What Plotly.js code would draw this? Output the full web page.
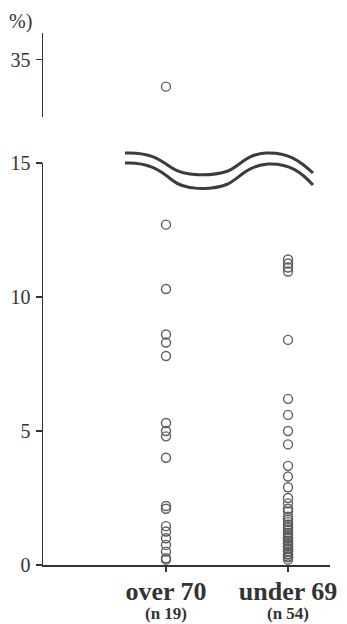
<!DOCTYPE html>
<html>
<head>
<meta charset="utf-8">
<script src="https://cdn.plot.ly/plotly-3.0.1.min.js"></script>
<style>
  html, body { margin: 0; padding: 0; background: #fff; }
  #chart { width: 347px; height: 624px; }
</style>
</head>
<body>
<div id="chart"></div>
<script>
// Groups along the x axis and their sample sizes
const categories = ['over 70', 'under 69'];
const groupSizes = [19, 54];

// Individual values (%) for each group
const over70 = [34, 12.7, 10.3, 8.6, 8.3, 7.8, 5.3, 5.0, 4.8, 4.0, 2.2, 2.1,
  1.45, 1.25, 1.0, 0.75, 0.5, 0.25, 0.2];
const under69 = [11.4, 11.25, 11.1, 10.95, 8.4, 6.2, 5.6, 5.0, 4.5, 3.7, 3.3, 2.9,
  2.5, 2.3, 2.1, 2.0, 1.8,
  1.7, 1.6, 1.5, 1.5, 1.4, 1.4, 1.3, 1.3, 1.2, 1.2, 1.1, 1.1, 1.0, 1.0, 1.0,
  0.9, 0.9, 0.9, 0.8, 0.8, 0.8, 0.7, 0.7, 0.7, 0.6, 0.6, 0.6, 0.5, 0.5, 0.5,
  0.4, 0.4, 0.4, 0.3, 0.3, 0.3, 0.2];

// Axis ticks for the lower and upper (broken) segments
const lowerTicks = [0, 5, 10, 15];
const upperTicks = [35];
const breakLevel = 15;

const W = 347, H = 624;
const px = x => x / W;
const py = y => 1 - y / H;

const serif = 'Liberation Serif, Times New Roman, serif';
const ink = '#333333';

const groups = [over70, under69];
const traces = [];
groups.forEach((vals, i) => {
  const low = vals.filter(v => v <= breakLevel);
  const high = vals.filter(v => v > breakLevel);
  const marker = { symbol: 'circle-open', size: 9, color: '#5e5e5e', line: { width: 1.4, color: '#5e5e5e' } };
  traces.push({ type: 'scatter', mode: 'markers', x: low.map(() => i), y: low,
    xaxis: 'x', yaxis: 'y', marker, cliponaxis: false, hoverinfo: 'y' });
  if (high.length) {
    traces.push({ type: 'scatter', mode: 'markers', x: high.map(() => i), y: high,
      xaxis: 'x', yaxis: 'y2', marker, cliponaxis: false, hoverinfo: 'y' });
  }
});

// Wavy double line marking the axis break (pixel-space path helper)
function wave(points) {
  let d = 'M ' + px(points[0][0]) + ',' + py(points[0][1]);
  for (let k = 1; k < points.length; k += 3) {
    d += ' C ' + [points[k], points[k + 1], points[k + 2]]
      .map(p => px(p[0]) + ',' + py(p[1])).join(' ');
  }
  return d;
}
const upperWave = [[125,153],[148,152],[158,158],[172,168],[184,176],[210,177],[228,171],[240,166],[246,154],[266,153],[288,152],[300,161],[313,173]];
const lowerWave = [[125,163],[148,162],[160,170],[172,180],[184,190],[210,191],[228,184],[240,178],[246,166],[268,164],[290,163],[302,173],[313,185]];
const waveStyle = { color: '#3c3c3c', width: 3 };

const axisCommon = {
  showline: true, linecolor: ink, linewidth: 1.5,
  ticks: 'outside', tickcolor: ink, tickwidth: 1.3,
  showgrid: false, zeroline: false,
  tickfont: { family: serif, size: 20, color: ink }
};

const layout = {
  width: W, height: H,
  margin: { l: 0, r: 0, t: 0, b: 0 },
  showlegend: false,
  paper_bgcolor: '#ffffff',
  plot_bgcolor: 'rgba(0,0,0,0)',
  font: { family: serif, color: ink },
  xaxis: Object.assign({}, axisCommon, {
    domain: [px(43), px(330)],
    range: [-1.008, 1.344],
    tickvals: categories.map((c, i) => i),
    ticktext: categories.map(c => '<b>' + c + '</b>'),
    ticklen: 5,
    ticklabelstandoff: -3,
    tickfont: { family: serif, size: 26, color: ink },
    anchor: 'y'
  }),
  yaxis: Object.assign({}, axisCommon, {
    domain: [py(565), py(163)],
    range: [0, 15],
    tickvals: lowerTicks,
    ticklen: 6,
    ticklabelstandoff: 1,
    anchor: 'x'
  }),
  yaxis2: Object.assign({}, axisCommon, {
    domain: [py(117), py(33)],
    range: [32.87, 36.0],
    tickvals: upperTicks,
    ticklen: 6,
    ticklabelstandoff: 1,
    anchor: 'x'
  }),
  shapes: [
    { type: 'path', xref: 'paper', yref: 'paper', path: wave(upperWave), line: waveStyle },
    { type: 'path', xref: 'paper', yref: 'paper', path: wave(lowerWave), line: waveStyle }
  ],
  annotations: [
    { xref: 'paper', yref: 'paper', x: px(20), y: py(22), xanchor: 'center', yanchor: 'middle',
      text: '%)', showarrow: false, font: { family: serif, size: 20, color: ink } }
  ].concat(groupSizes.map((n, i) => ({
    xref: 'x', yref: 'paper', x: i, y: 0, xanchor: 'center', yanchor: 'bottom', borderpad: 0,
    text: '<b>(n ' + n + ')</b>', showarrow: false, font: { family: serif, size: 17, color: ink }
  })))
};

Plotly.newPlot('chart', traces, layout, { displayModeBar: false, staticPlot: true });
</script>
</body>
</html>
